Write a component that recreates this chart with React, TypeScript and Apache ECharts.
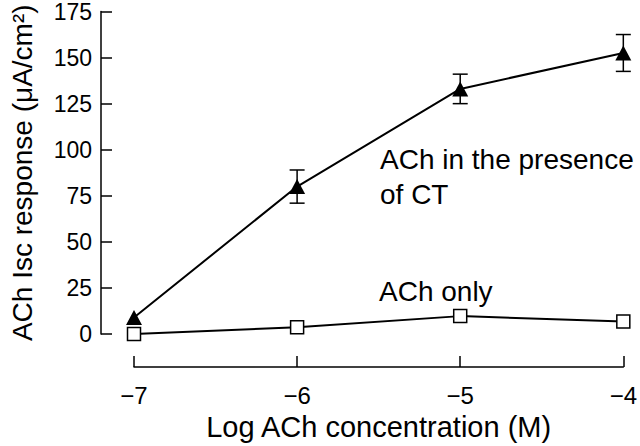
import React, { useEffect, useRef } from 'react';
import * as echarts from 'echarts';

const logConc = [-7, -6, -5, -4];
const ctMean = [9, 80, 133, 152.5];
const ctSem = [0, 9, 8, 10];
const achOnly = [0, 3.7, 9.7, 6.8];
const yTickValues = [0, 25, 50, 75, 100, 125, 150, 175];
const xAxisTitle = 'Log ACh concentration (M)';
const yAxisTitle = 'ACh Isc response (\u03BCA/cm\u00B2)';
const ctLabel = 'ACh in the presence\nof CT';
const onlyLabel = 'ACh only';

const FONT = '"Liberation Sans", Arial, sans-serif';

export default function App() {
  const ref = useRef<HTMLDivElement>(null);
  useEffect(() => {
    if (!ref.current) return;
    const chart = echarts.init(ref.current, undefined, { renderer: 'svg' });
    const errData = logConc
      .map((x, i) => [x, ctMean[i] - ctSem[i], ctMean[i] + ctSem[i], ctSem[i]])
      .filter((d) => d[3] > 0);
    chart.setOption({
      animation: false,
      backgroundColor: '#fff',
      textStyle: { fontFamily: FONT },
      grid: { left: 131, right: 14, top: 9, bottom: 111, containLabel: false },
      xAxis: {
        type: 'value',
        min: logConc[0],
        max: logConc[logConc.length - 1],
        interval: 1,
        offset: 33,
        axisLine: { show: true, onZero: false, lineStyle: { color: '#000', width: 1.5 } },
        axisTick: { show: true, inside: true, length: 11, lineStyle: { color: '#000', width: 1.5 } },
        splitLine: { show: false },
        axisLabel: {
          color: '#000',
          fontSize: 24,
          fontFamily: FONT,
          margin: 16,
          formatter: (v: number) => (v < 0 ? '\u2212' + Math.abs(v) : String(v)),
        },
        name: xAxisTitle,
        nameLocation: 'middle',
        nameGap: 45,
        nameTextStyle: { color: '#000', fontSize: 29, fontFamily: FONT },
      },
      yAxis: {
        type: 'value',
        min: yTickValues[0],
        max: yTickValues[yTickValues.length - 1],
        interval: 25,
        offset: 33,
        axisLine: { show: true, onZero: false, lineStyle: { color: '#000', width: 1.5 } },
        axisTick: { show: true, inside: true, length: 11, lineStyle: { color: '#000', width: 1.5 } },
        splitLine: { show: false },
        axisLabel: { color: '#000', fontSize: 23, fontFamily: FONT, margin: 9 },
        name: yAxisTitle,
        nameLocation: 'middle',
        nameGap: 65,
        nameTextStyle: { color: '#000', fontSize: 28, fontFamily: FONT },
      },
      graphic: [
        {
          type: 'text',
          left: 380,
          top: 142,
          style: { text: ctLabel, font: `28px ${FONT}`, fill: '#000', lineHeight: 35 },
        },
        {
          type: 'text',
          left: 379,
          top: 277,
          style: { text: onlyLabel, font: `28px ${FONT}`, fill: '#000' },
        },
      ],
      series: [
        {
          type: 'custom',
          z: 1,
          data: errData,
          renderItem: (params: any, api: any) => {
            const x = api.value(0);
            const pLo = api.coord([x, api.value(1)]);
            const pHi = api.coord([x, api.value(2)]);
            const w = 7.5;
            const st = { stroke: '#000', lineWidth: 1.5 };
            return {
              type: 'group',
              children: [
                { type: 'line', shape: { x1: pLo[0], y1: pLo[1], x2: pHi[0], y2: pHi[1] }, style: st },
                { type: 'line', shape: { x1: pLo[0] - w, y1: pLo[1], x2: pLo[0] + w, y2: pLo[1] }, style: st },
                { type: 'line', shape: { x1: pHi[0] - w, y1: pHi[1], x2: pHi[0] + w, y2: pHi[1] }, style: st },
              ],
            };
          },
        },
        {
          type: 'line',
          z: 3,
          data: logConc.map((x, i) => [x, ctMean[i]]),
          symbol: 'triangle',
          symbolSize: [16, 15],
          lineStyle: { color: '#000', width: 2 },
          itemStyle: { color: '#000', borderColor: '#000', borderWidth: 0 },
        },
        {
          type: 'line',
          z: 3,
          data: logConc.map((x, i) => [x, achOnly[i]]),
          symbol: 'rect',
          symbolSize: 13,
          lineStyle: { color: '#000', width: 2 },
          itemStyle: { color: '#fff', borderColor: '#000', borderWidth: 1.5 },
        },
      ],
    });
    return () => chart.dispose();
  }, []);
  return (
    <div
      ref={ref}
      style={{ position: 'absolute', left: 0, top: 0, width: 640, height: 446 }}
    />
  );
}
